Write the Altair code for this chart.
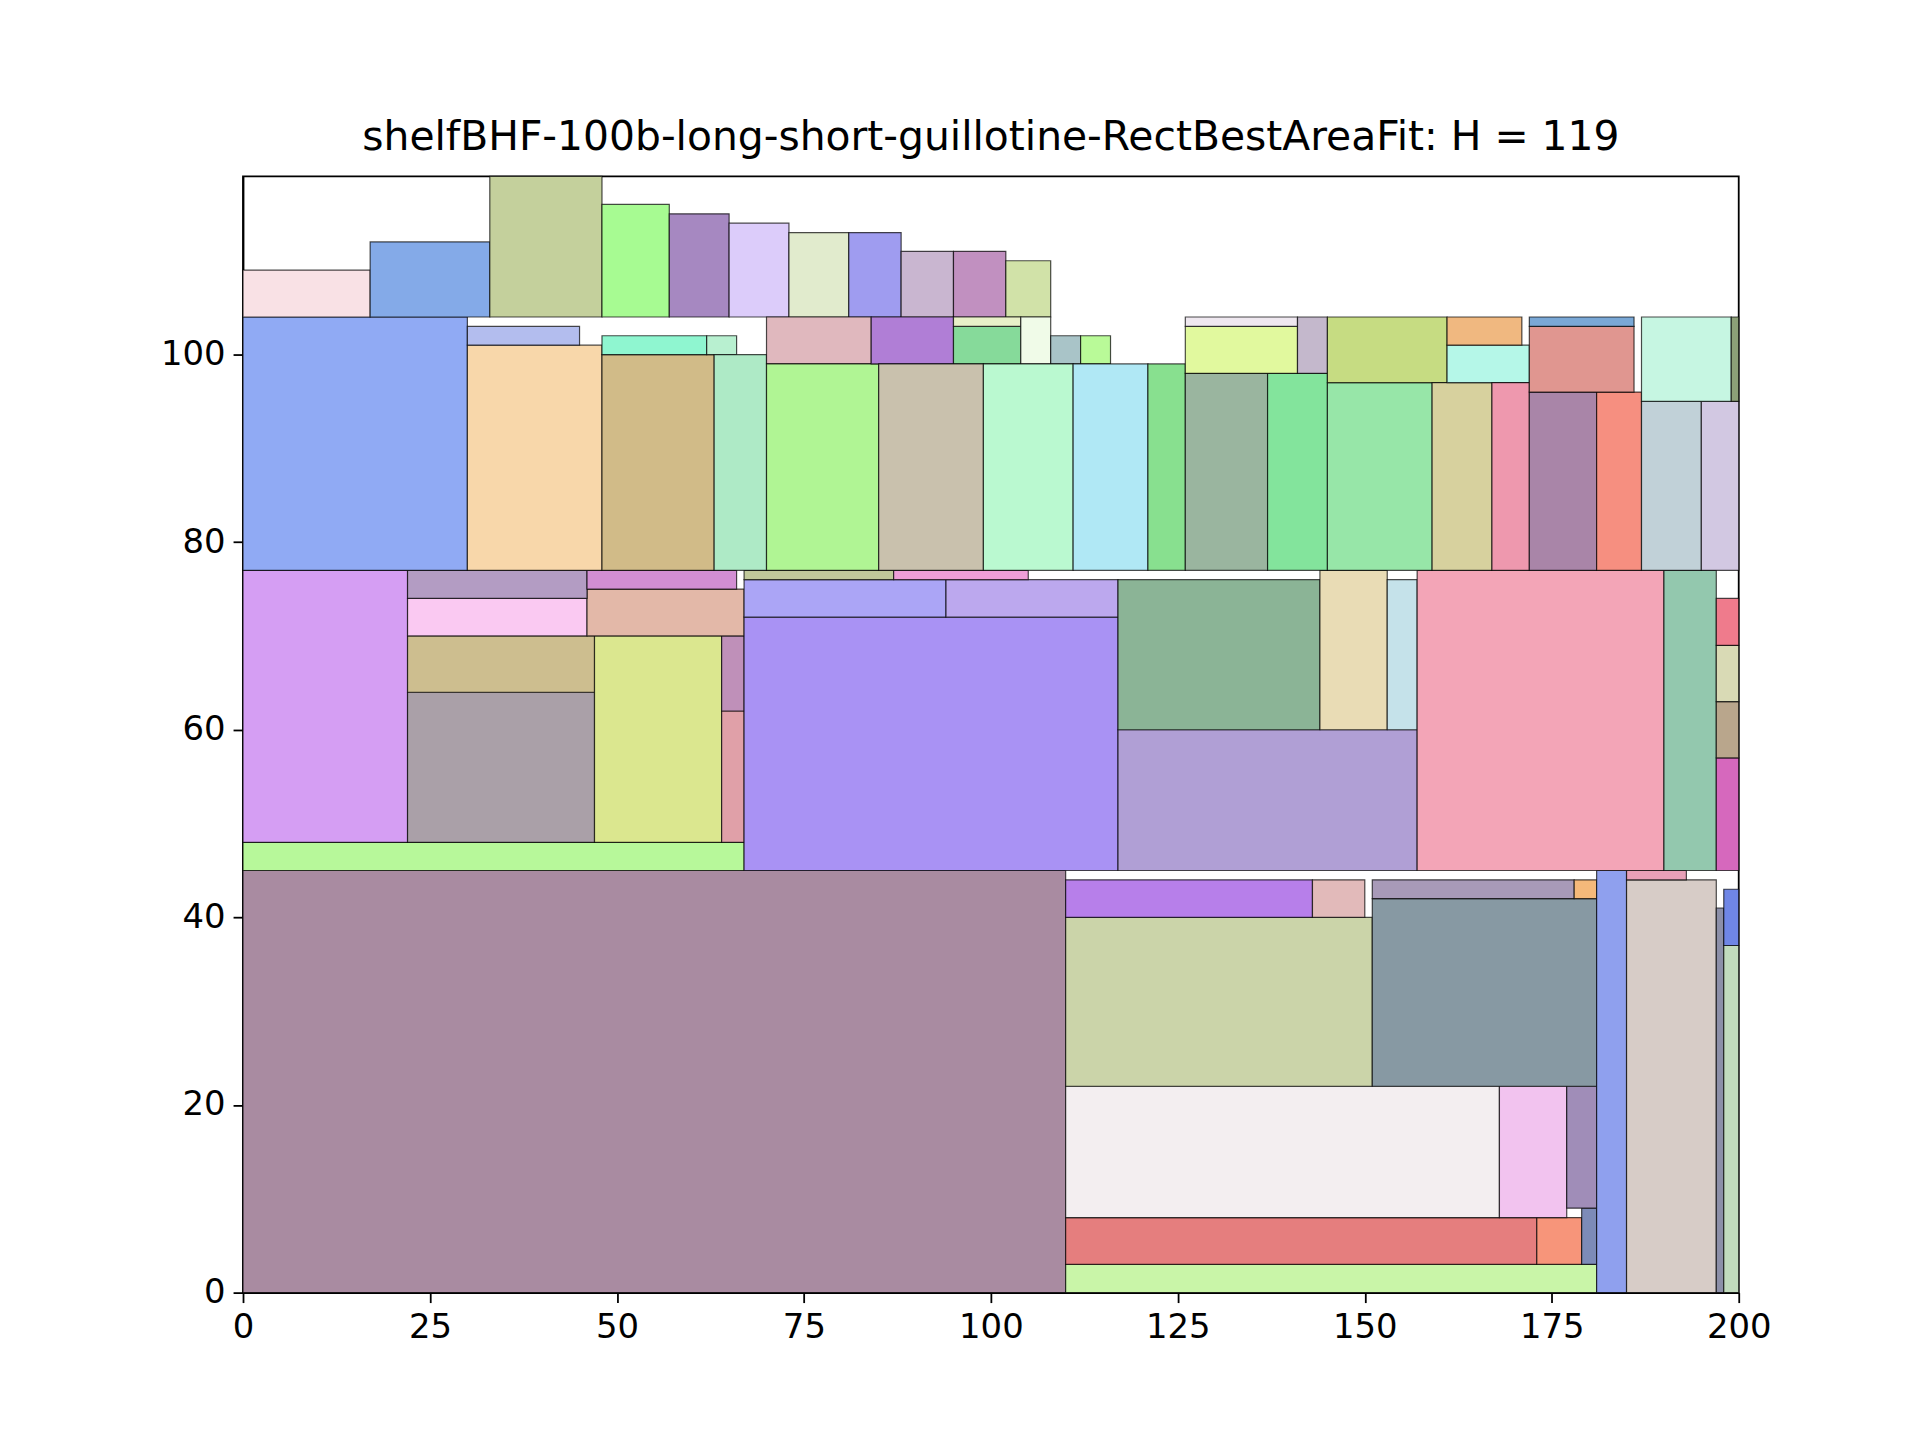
import altair as alt
import pandas as pd

# rectangles: x0, y0, x1, y1, colour
x0 = [0, 110, 110, 173, 179, 110, 168, 177, 110, 151, 110, 143, 151, 178, 181, 185, 197, 198, 198, 185,
      0, 0, 22, 22, 47, 64, 64, 22, 46, 22, 46, 67, 67, 94, 67, 87, 117, 117, 144, 153, 157, 190, 197, 197, 197, 197,
      0, 0, 17, 33, 48, 57, 65, 73, 81, 88, 95, 102, 30, 30, 48, 48, 62, 63, 70, 70, 84, 95, 95, 104, 108, 112,
      85, 99, 111, 121, 126, 137, 126, 126, 141, 145, 145, 159, 161, 161, 167, 172, 181, 172, 172, 187, 195, 187, 199]
y0 = [0, 0, 3, 3, 3, 8, 8, 9, 22, 22, 40, 40, 42, 42, 0, 0, 0, 0, 37, 44,
      45, 48, 48, 64, 48, 48, 62, 70, 70, 74, 75, 45, 72, 72, 76, 76, 45, 60, 60, 60, 45, 45, 45, 57, 63, 69,
      77, 104, 104, 104, 104, 104, 104, 104, 104, 104, 104, 104, 77, 101, 77, 100, 100, 77, 99, 77, 99, 99, 103, 99, 99, 99,
      77, 77, 77, 77, 77, 77, 98, 103, 98, 77, 97, 77, 97, 101, 77, 77, 77, 96, 103, 77, 77, 95, 95]
x1 = [110, 181, 173, 179, 181, 168, 177, 181, 151, 181, 143, 150, 178, 181, 185, 197, 198, 200, 200, 193,
      67, 22, 47, 47, 64, 67, 67, 46, 67, 46, 66, 117, 94, 117, 87, 105, 157, 144, 153, 157, 190, 197, 200, 200, 200, 200,
      30, 17, 33, 48, 57, 65, 73, 81, 88, 95, 102, 108, 48, 45, 63, 62, 66, 70, 84, 85, 95, 104, 104, 108, 112, 116,
      99, 111, 121, 126, 137, 145, 141, 141, 145, 159, 161, 167, 172, 171, 172, 181, 187, 186, 186, 195, 200, 199, 200]
y1 = [45, 3, 8, 8, 9, 22, 22, 22, 40, 42, 44, 44, 44, 44, 45, 44, 41, 37, 43, 45,
      48, 77, 64, 70, 70, 62, 70, 74, 75, 77, 77, 72, 76, 76, 77, 77, 60, 76, 77, 76, 77, 77, 57, 63, 69, 74,
      104, 109, 112, 119, 116, 115, 114, 113, 113, 111, 111, 110, 101, 103, 100, 102, 102, 100, 104, 99, 104, 103, 104, 104, 102, 102,
      99, 99, 99, 99, 98, 98, 103, 104, 104, 97, 104, 97, 101, 104, 97, 96, 96, 103, 104, 95, 95, 104, 104]
colours = ["#a98ba1", "#c9f5a8", "#e57e7e", "#f7957a", "#7d8bb8", "#f3eef0", "#f2c3ef", "#a08db8", "#cbd4a9", "#8799a3",
           "#b77fea", "#e2baba", "#a89ab8", "#f5b97a", "#8fa0ee", "#d7ccc7", "#8c8fa8", "#c1dbbd", "#6f86e6", "#e8a0b8",
           "#b7f89a", "#d59ef3", "#aaa0a8", "#cdbe8f", "#dbe78f", "#e0a0a8", "#bf90b9", "#fac9f2", "#e3b8a8", "#b39cc3",
           "#d28ed3", "#a992f4", "#aba5f6", "#bca8ee", "#c0c89a", "#ef9ed8", "#b09fd5", "#8bb496", "#e9dcb5", "#c5e2ea",
           "#f3a5b7", "#93c8ae", "#d668bd", "#b9a68c", "#d9dab5", "#ef7b8c",
           "#90aaf4", "#f9e1e5", "#84aae8", "#c4d09c", "#a7fb92", "#a688c1", "#dcccfa", "#e1ebcd", "#9f9cf0", "#c9b6d0",
           "#c190c0", "#d1e2a8", "#f8d7aa", "#b3bdee", "#d1bb88", "#8ff6d0", "#b8f0d0", "#aeeac6", "#e0b8be", "#b0f594",
           "#b07ed6", "#86da9a", "#e8f0c8", "#f0fbe8", "#a9c4c8", "#b9fa98",
           "#c9c1ad", "#baf9d0", "#b0e8f5", "#88e08f", "#9ab59f", "#83e49c", "#e1f99e", "#efe8f0", "#c4b8cc", "#97e6a8",
           "#c6dc82", "#d7d19e", "#b5f7e8", "#f0b880", "#ee98ae", "#a985a8", "#f68f80", "#e09690", "#7aa8d6", "#c1d1d8",
           "#d2c8e2", "#c6f6e2", "#8ca078"]

df = pd.DataFrame({"x0": x0, "y0": y0, "x1": x1, "y1": y1, "c": colours})

chart = alt.Chart(df).mark_rect(stroke="black", strokeWidth=1.2, strokeOpacity=0.7).encode(
    x=alt.X("x0:Q", scale=alt.Scale(domain=[0, 200], nice=False),
            axis=alt.Axis(values=[0, 25, 50, 75, 100, 125, 150, 175, 200], title=None, grid=False,
                          labelFlush=False)),
    x2="x1:Q",
    y=alt.Y("y0:Q", scale=alt.Scale(domain=[0, 119], nice=False),
            axis=alt.Axis(values=[0, 20, 40, 60, 80, 100], title=None, grid=False, labelFlush=False)),
    y2="y1:Q",
    color=alt.Color("c:N", scale=None),
).properties(
    width=1502, height=1121,
    autosize=alt.AutoSizeParams(type="none"),
    padding={"left": 236, "top": 166, "right": 174, "bottom": 145},
    title=alt.Title("shelfBHF-100b-long-short-guillotine-RectBestAreaFit: H = 119",
                    fontSize=41, fontWeight="normal", font="DejaVu Sans", color="black", offset=17),
).configure_axis(
    labelFont="DejaVu Sans", labelFontSize=34, labelColor="black", tickColor="black",
    tickSize=10, tickWidth=1.8, domainColor="black", domainWidth=1.8, labelPadding=8,
).configure_view(stroke="black", strokeWidth=1.8)

chart.save("out.html", embed_options={"renderer": "svg", "actions": False})
